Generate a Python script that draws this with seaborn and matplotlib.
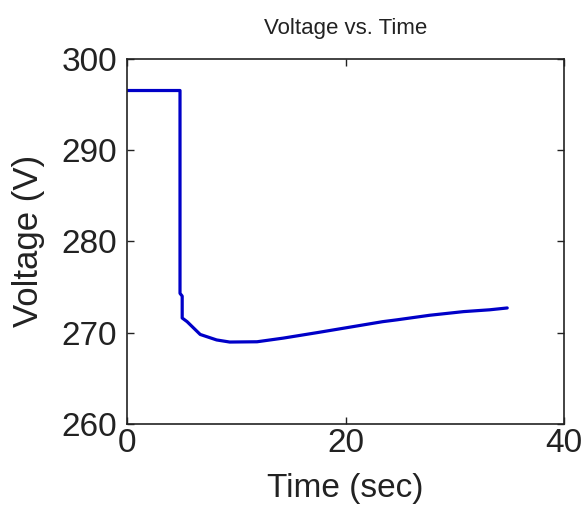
import matplotlib
matplotlib.use("Agg")
import matplotlib.pyplot as plt
import seaborn as sns
import pandas as pd

time_s = [0.0, 4.85, 4.85, 5.05, 5.05, 5.5, 6.7, 8.2, 9.4, 11.9, 14.3, 17.4, 20.4, 23.4, 24.7, 27.7, 30.8, 33.2, 34.8]
voltage_v = [296.5, 296.5, 274.3, 274.0, 271.6, 271.2, 269.8, 269.2, 268.97, 269.0, 269.4, 270.0, 270.6, 271.2, 271.4, 271.9, 272.3, 272.5, 272.7]
x_ticks = [0, 20, 40]
y_ticks = [260, 270, 280, 290, 300]

sns.set_theme(style="white")
plt.rcParams['font.family'] = ['Liberation Sans', 'DejaVu Sans']

df = pd.DataFrame({"Time": time_s, "Voltage": voltage_v})

fig = plt.figure(figsize=(5.84, 5.09), dpi=100)
ax = fig.add_axes([0.2175, 0.167, 0.7483, 0.718])
sns.lineplot(data=df, x="Time", y="Voltage", ax=ax, color="#0000C8", linewidth=2.3,
             sort=False, estimator=None, errorbar=None)

ax.set_xlim(0, 40)
ax.set_ylim(260, 300)
ax.set_xticks(x_ticks)
ax.set_yticks(y_ticks)
ax.tick_params(direction="in", length=5, width=1, labelsize=24, colors="#222222",
               top=True, right=True, left=True, bottom=True)
ax.tick_params(axis="y", pad=7)
ax.tick_params(axis="x", pad=3)
for s in ax.spines.values():
    s.set_visible(True)
    s.set_color("#222222")
    s.set_linewidth(1.2)

ax.set_xlabel("Time (sec)", fontsize=24, color="#222222", labelpad=10)
ax.set_ylabel("Voltage (V)", fontsize=25, color="#222222", labelpad=12)
ax.set_title("Voltage vs. Time", fontsize=16, color="#222222", pad=18)

fig.savefig("out.png", dpi=100, facecolor="white")
